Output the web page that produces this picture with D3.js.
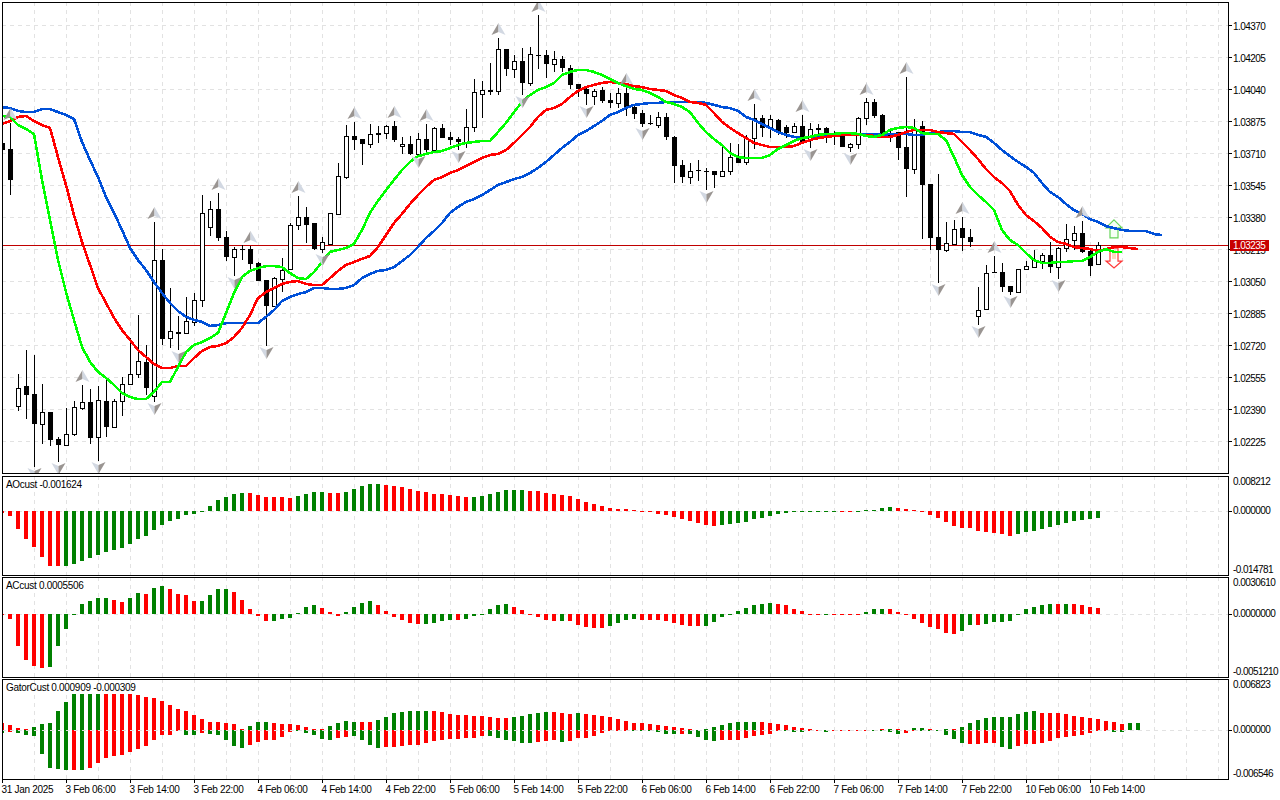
<!DOCTYPE html>
<html>
<head>
<meta charset="utf-8">
<script src="https://d3js.org/d3.v7.min.js"></script>
<style>
  html, body { margin: 0; padding: 0; background: #fff; }
  svg { display: block; }
  text { font-family: "Liberation Sans", sans-serif; font-size: 10px; letter-spacing: -0.55px; fill: #000; }
  text.label, .time text { letter-spacing: -0.3px; }
  .axis path.domain { display: none; }
  .axis line { stroke: #000; shape-rendering: crispEdges; }
  .grid { stroke: #e2e2e2; stroke-dasharray: 4 4; shape-rendering: crispEdges; }
  .frame { fill: none; stroke: #000; shape-rendering: crispEdges; }
</style>
</head>
<body>
<svg id="chart" width="1280" height="800"></svg>
<script>
// prices are in points, 1 point = 0.00001
const opens = [103762,103731,102406,102509,102467,102313,102375,102235,102204,102261,
  102395,102426,102246,102431,102297,102431,102519,102570,102633,102457,
  103158,102756,102787,102782,102839,102952,103328,103421,103277,103174,
  103215,103215,103143,103055,102921,103060,103112,103339,103380,103349,
  103215,103241,103396,103586,103798,103782,103756,103813,103813,103849,
  103746,103756,103705,103782,103725,103839,103793,103782,103767,103844,
  104014,104030,104030,104246,104143,104184,104071,104215,104215,104169,
  104195,104148,104066,104040,104004,104035,103983,103968,104019,103947,
  103916,103865,103854,103896,103793,103648,103586,103622,103617,103617,
  103591,103617,103689,103664,103787,103891,103839,103880,103844,103818,
  103849,103782,103839,103839,103813,103803,103741,103756,103891,103973,
  103906,103813,103818,103741,103627,103849,103550,103277,103210,103241,
  103323,103277,102870,102905,103096,103096,103024,102993,103112,103122,
  103153,103184,103122,103220,103261,103297,103205,103138];
const highs = [103777,103865,102570,102694,102668,102519,102375,102246,102395,102431,
  102514,102493,102509,102540,102441,102555,102756,102875,102720,103354,
  103215,103014,102870,102968,102988,103493,103463,103504,103308,103225,
  103236,103231,103148,103055,103071,103169,103349,103488,103432,103349,
  103277,103401,103658,103854,103870,103782,103860,103849,103854,103875,
  103793,103798,103813,103860,103844,103860,103818,103793,103937,104092,
  104081,104174,104303,104246,104215,104251,104257,104422,104241,104236,
  104210,104164,104066,104045,104040,104050,104019,104045,104045,103958,
  103932,103906,103921,103916,103798,103674,103658,103674,103633,103617,
  103741,103762,103756,103803,103963,103906,103906,103885,103854,103865,
  103906,103865,103860,103844,103823,103813,103762,103896,103994,103988,
  103911,103839,103818,104102,103885,103875,103550,103602,103354,103365,
  103380,103318,103019,103133,103179,103143,103024,103112,103153,103210,
  103194,103251,103225,103344,103333,103359,103220,103251];
const lows = [103700,103493,102380,102339,102091,102209,102199,102117,102199,102251,
  102385,102209,102122,102246,102292,102354,102514,102550,102462,102426,
  102720,102704,102694,102777,102818,102916,103282,103256,103153,103076,
  103158,103112,103050,102715,102916,102993,103112,103313,103246,103210,
  103194,103236,103396,103576,103725,103648,103736,103762,103782,103767,
  103705,103700,103700,103715,103720,103787,103751,103725,103736,103818,
  103891,104009,104009,104107,104097,104009,104055,104143,104097,104128,
  104128,104040,103999,103958,103958,103968,103942,103942,103901,103885,
  103844,103854,103839,103777,103555,103555,103550,103566,103519,103529,
  103586,103597,103658,103648,103731,103793,103787,103803,103787,103813,
  103767,103736,103787,103762,103751,103741,103715,103731,103854,103891,
  103787,103767,103674,103483,103602,103267,103210,103040,103200,103236,
  103205,103225,102823,102900,103091,102993,102978,102993,103107,103122,
  103112,103091,103060,103200,103210,103194,103076,103138];
const closes = [103725,103571,102498,102462,102313,102375,102230,102204,102261,102401,
  102426,102240,102436,102297,102431,102519,102570,102638,102498,103158,
  102751,102792,102777,102844,102952,103401,103421,103272,103174,103215,
  103210,103138,103050,102921,103065,103107,103339,103380,103339,103215,
  103251,103401,103591,103798,103777,103756,103808,103803,103849,103777,
  103756,103705,103782,103725,103839,103787,103777,103767,103844,104025,
  104035,104035,104246,104143,104184,104071,104220,104210,104169,104195,
  104148,104061,104040,104014,104030,103978,103968,104019,103942,103911,
  103860,103860,103896,103793,103643,103586,103617,103617,103612,103597,
  103617,103689,103658,103787,103891,103839,103885,103813,103813,103849,
  103767,103834,103829,103808,103808,103741,103756,103891,103973,103901,
  103803,103798,103736,103627,103839,103545,103272,103210,103246,103318,
  103272,103251,102900,103091,103091,103019,102993,103112,103127,103158,
  103184,103122,103220,103267,103297,103200,103127,103235];

// moving averages, each shifted forward on the chart
const jawLine = [103947,103942,103927,103921,103921,103937,103937,103921,103906,103885,
  103767,103674,103586,103483,103401,103313,103220,103158,103107,103045,
  102988,102937,102895,102865,102849,102839,102818,102823,102833,102833,
  102833,102833,102833,102865,102900,102947,102968,102983,102993,103014,
  103014,103009,103009,103014,103029,103065,103086,103102,103107,103122,
  103153,103184,103225,103272,103308,103349,103401,103432,103457,103473,
  103493,103519,103545,103560,103576,103586,103607,103633,103664,103700,
  103736,103767,103803,103823,103849,103875,103906,103921,103942,103958,
  103963,103968,103968,103973,103973,103973,103973,103973,103968,103958,
  103947,103942,103927,103896,103880,103860,103839,103818,103803,103793,
  103787,103793,103793,103803,103808,103813,103813,103808,103808,103808,
  103803,103808,103808,103808,103803,103803,103813,103818,103823,103823,
  103818,103818,103803,103793,103762,103725,103694,103664,103638,103607,
  103555,103509,103483,103447,103416,103396,103370,103354,103333,103323,
  103313,103308,103308,103308,103292,103287];
const teethLine = [103860,103875,103896,103901,103875,103854,103839,103689,103545,103390,
  103251,103133,103014,102937,102860,102797,102746,102694,102658,102622,
  102601,102601,102612,102612,102653,102689,102710,102715,102730,102761,
  102808,102875,102962,102993,103014,103035,103045,103050,103035,103029,
  103029,103065,103102,103133,103148,103164,103179,103225,103287,103349,
  103396,103447,103493,103535,103571,103586,103607,103622,103643,103664,
  103684,103700,103705,103725,103762,103803,103844,103896,103932,103942,
  103963,103999,104030,104050,104061,104071,104076,104071,104066,104055,
  104050,104040,104035,104030,104009,103994,103973,103968,103958,103916,
  103870,103839,103813,103787,103762,103751,103741,103741,103741,103746,
  103762,103777,103787,103793,103798,103803,103803,103803,103803,103798,
  103793,103793,103803,103818,103829,103829,103829,103818,103813,103808,
  103767,103725,103679,103627,103586,103555,103514,103442,103390,103359,
  103323,103277,103251,103241,103225,103220,103215,103205,103215,103225,
  103225,103220,103215];
const lipsLine = [103901,103896,103854,103834,103808,103571,103365,103158,102993,102849,
  102710,102633,102581,102550,102514,102473,102452,102441,102441,102478,
  102529,102529,102607,102684,102720,102735,102756,102782,102885,102988,
  103071,103102,103117,103127,103127,103122,103091,103065,103060,103096,
  103148,103200,103210,103220,103241,103313,103401,103463,103519,103571,
  103622,103664,103694,103705,103715,103720,103736,103751,103762,103767,
  103772,103772,103818,103865,103921,103973,104009,104035,104050,104071,
  104112,104128,104138,104138,104128,104112,104092,104071,104055,104040,
  104035,104019,103999,103973,103963,103947,103921,103865,103818,103782,
  103751,103710,103689,103684,103684,103684,103700,103731,103751,103772,
  103787,103793,103803,103808,103808,103813,103813,103808,103798,103793,
  103803,103829,103839,103844,103839,103813,103808,103808,103777,103689,
  103597,103535,103493,103457,103416,103313,103261,103236,103194,103158,
  103143,103143,103148,103148,103153,103153,103174,103200,103215,103200,
  103200];

// bar numbers carrying a fractal mark
const fractalUp = [1,10,19,27,31,37,44,49,53,62,67,78,94,100,108,113,120,124,135];
const fractalDown = [4,7,12,19,22,29,33,40,52,57,65,73,80,88,101,106,117,122,126,132];

const aoValues = [-.00046,-.00116,-.00418,-.0065,-.00836,-.01068,-.01277,-.01277,-.01277,-.01231,
  -.01161,-.01091,-.01022,-.00952,-.00906,-.00859,-.00766,-.0065,-.00581,-.00441,
  -.00325,-.00232,-.00186,-.00093,-.0007,-.00015,.00116,.00255,.00325,.00395,
  .00418,.00418,.00372,.00325,.00325,.00325,.00302,.00348,.00395,.00441,
  .00441,.00418,.00418,.00441,.00511,.00581,.00627,.00627,.00604,.00581,
  .00557,.00511,.00464,.00441,.00395,.00395,.00372,.00348,.00325,.00325,
  .00348,.00395,.00441,.00488,.00488,.00488,.00464,.00464,.00418,.00395,
  .00372,.00348,.00279,.00209,.00163,.00116,.0007,.00046,.00046,.00023,
  .00008,-.00008,-.0007,-.00093,-.00139,-.00186,-.00232,-.00279,-.00325,-.00348,
  -.00325,-.00302,-.00279,-.00255,-.00186,-.00163,-.00116,-.0007,-.00046,-.00015,
  -.00008,-.00004,-.00008,-.00008,-.00008,-.00008,-.00008,.00008,.00023,.00039,
  .0007,.00093,.0007,.00046,.00023,.00008,-.00093,-.00163,-.00255,-.00348,
  -.00395,-.00395,-.00464,-.00488,-.00511,-.00534,-.00581,-.00534,-.00488,-.00464,
  -.00418,-.00372,-.00325,-.00279,-.00232,-.00209,-.00186,-.00162];
const aoTrend = ["RRRRRRRRGG","GGGGGGGGGG","GGGGGGGGGG","GRRRRRRGGG","GRRGGGGGRR","RRRRRRRRRG","GGGGGGRRRR",
  "RRRRRRRRRR","RRRRRRRRRR","GGGGGGGGGG","GGGGGRRGGG","GGRRRRRRRR","RRRRRRRGGG","GGGGGGGG"].join("");

const acValues = [-.00005,-.00041,-.00262,-.00376,-.00425,-.00442,-.00434,-.00262,-.00123,.00005,
  .00082,.00106,.00131,.00131,.00115,.00098,.00131,.00172,.00164,.00213,
  .00229,.00205,.00164,.00155,.00106,.00106,.00155,.00205,.00205,.0018,
  .00115,.00041,-.00016,-.00057,-.00057,-.00041,-.00033,.00008,.00057,.00074,
  .00049,.00016,-.00014,.00016,.00057,.0009,.00106,.00074,.00025,-.00025,
  -.00049,-.00074,-.00082,-.00082,-.00074,-.00057,-.00049,-.00049,-.00041,-.00016,
  -.00005,.00041,.00074,.00082,.00057,.00033,-.00003,-.00025,-.00049,-.00057,
  -.00057,-.00057,-.0009,-.00106,-.00115,-.00115,-.00098,-.00074,-.00049,-.00041,
  -.00049,-.00049,-.00049,-.00057,-.00074,-.0009,-.00098,-.00098,-.00098,-.00065,
  -.00025,.00005,.00025,.00049,.00074,.00082,.0009,.00082,.00074,.00041,
  .00025,.00005,.00005,.00005,.00005,.00003,-.00003,.00003,.00016,.00041,
  .00041,.00041,.00016,-.00008,-.00041,-.00071,-.00106,-.00123,-.00155,-.00164,
  -.00139,-.0009,-.0009,-.00082,-.00065,-.00065,-.00057,.00003,.00041,.00057,
  .00074,.00082,.00082,.00082,.00082,.00074,.00057,.00055];
const acTrend = ["RRRRRRGGGG","GGGGRRGGRG","GRRRRGGGGR","RRRRGGGGGG","RRRGGGGRRR","RRRGGGGRGG","GGGGRRRRRR",
  "GRRRRRGGGG","RRRRRRRRGG","GGGGGGGRRR","RRRGRRRRGG","GRRRRRRRRR","GGRGGGGGGG","GGRGRRRR"].join("");

const gatorUp = [.00095,.00068,.00027,.00014,.00041,.00081,.00095,.00257,.00378,.00486,
  .00486,.00486,.00486,.00486,.00486,.00486,.00486,.00473,.00446,.00432,
  .00392,.00338,.00284,.00257,.00203,.00149,.00108,.00108,.00095,.00081,
  .00014,.00054,.00108,.00108,.00095,.00081,.00081,.00068,.00041,.00014,
  .00014,.00054,.00095,.00122,.00108,.00108,.00108,.00135,.00176,.0023,
  .00243,.00257,.00257,.00257,.00257,.00243,.00216,.00203,.00203,.00189,
  .00189,.00176,.00162,.00162,.00176,.00189,.00216,.0023,.00243,.00243,
  .0023,.00216,.0023,.00216,.00203,.00189,.00176,.00149,.00122,.00095,
  .00095,.00081,.00068,.00054,.00041,.00027,.00014,.00005,.00014,.00041,
  .00068,.00095,.00108,.00108,.00108,.00108,.00095,.00081,.00068,.00041,
  .00027,.00014,.00005,.00005,.00005,.00005,.00005,.00005,.00005,.00005,
  .00014,.00014,.00014,.00005,.00027,.00027,.00014,.00005,.00014,.00014,
  .00041,.00095,.00135,.00162,.00176,.00176,.00176,.00216,.00243,.00257,
  .0023,.0023,.0023,.00216,.00189,.00176,.00162,.00149,.00122,.00108,
  .00081,.00091,.00091];
const gatorUpTrend = ["RRRRGGGGGG","GGGRRRRRRR","RRRRRRRRRR","RGGGRRRRRR","RGGGGRRGGG","GGGGRRRRRR","RRRRGGGGGR",
  "RRGRRRRRRR","RRRRRRRGGG","GGGGGRRRRR","RRRRRRRRRG","RGRRGGRGGR","GGGGGGGGGG","RRRRRRRRRR","RGG"].join("");
const gatorDown = [-.00041,-.00027,-.00041,-.00068,-.00081,-.00324,-.00513,-.00527,-.0054,-.0054,
  -.0054,-.00513,-.00446,-.00378,-.00351,-.00338,-.00297,-.00257,-.00216,-.00135,
  -.00068,-.00068,-.00014,-.00068,-.00068,-.00041,-.00054,-.00068,-.00135,-.00216,
  -.00243,-.00203,-.00162,-.00135,-.00135,-.00095,-.00027,-.00014,-.00041,-.00068,
  -.00122,-.00135,-.00108,-.00095,-.00081,-.00135,-.00203,-.00243,-.0023,-.0023,
  -.00216,-.00203,-.00203,-.00176,-.00149,-.00135,-.00122,-.00122,-.00108,-.00108,
  -.00081,-.00081,-.00108,-.00135,-.00149,-.00176,-.00176,-.00162,-.00149,-.00135,
  -.00162,-.00149,-.00108,-.00108,-.00081,-.00041,-.00014,-.00014,-.00014,-.00014,
  -.00014,-.00014,-.00027,-.00054,-.00054,-.00054,-.00054,-.00095,-.00135,-.00149,
  -.00135,-.00135,-.00135,-.00108,-.00081,-.00068,-.00054,-.00005,-.00014,-.00027,
  -.00027,-.00005,0,-.00027,0,0,0,0,0,0,
  -.00014,-.00027,-.00054,-.00041,-.00005,-.00005,-.00005,-.00005,-.00068,-.00122,
  -.00176,-.00189,-.00189,-.00176,-.00176,-.0023,-.00257,-.00216,-.00189,-.00189,
  -.00176,-.00149,-.00108,-.00095,-.00081,-.00068,-.00041,-.00014,-.00005,-.00027,
  -.00027,0,0];
const gatorDownTrend = ["GRGGGGGGGR","GRRRRRRRRR","RRRGGRGGGG","GRRRRRRGGG","GGRRGGGGRR","RRRRRRRRRR","RGGGGGGRRR",
  "GRRRRRRRRG","GGGGGRGGGG","RRRRRRRRGG","GRRGRRRRRR","GGGRRGGGGG","GRRRRGGRRR","RRRRRRRRRG","GGG"].join("");

const priceTicks = [104370,104205,104040,103875,103710,103545,103380,103215,103050,102885,102720,102555,102390,102225];
const timeLabels = ["31 Jan 2025","3 Feb 06:00","3 Feb 14:00","3 Feb 22:00","4 Feb 06:00","4 Feb 14:00","4 Feb 22:00",
  "5 Feb 06:00","5 Feb 14:00","5 Feb 22:00","6 Feb 06:00","6 Feb 14:00","6 Feb 22:00","7 Feb 06:00","7 Feb 14:00",
  "7 Feb 22:00","10 Feb 06:00","10 Feb 14:00"];
const lastPrice = 103235;
const signalBar = 139, buySignal = 103272, sellSignal = 103220;

const svg = d3.select("#chart");
const left = 2, right = 1228;
const x = d3.scaleLinear().domain([0, 1]).range([2, 10]);
const priceY = d3.scaleLinear().domain([104370, 102225]).range([25, 441]);
const colors = { G: "#008000", R: "#ff0000" };

// clip for everything inside the panes
const defs = svg.append("defs");
function addClip(id, top, bottom) {
    defs.append("clipPath").attr("id", id).append("rect")
        .attr("x", left + 1).attr("y", top + 1)
        .attr("width", right - left - 1).attr("height", bottom - top - 1);
}

// 竖直网格
function drawVGrid(top, bottom) {
    svg.append("g").selectAll("line")
        .data(d3.range(4, 153, 4))
        .enter()
        .append("line")
        .attr("class", "grid")
        .attr("x1", d => x(d)).attr("x2", d => x(d))
        .attr("y1", top).attr("y2", bottom);
}

function drawHGrid(values, y) {
    svg.append("g").selectAll("line")
        .data(values)
        .enter()
        .append("line")
        .attr("class", "grid")
        .attr("x1", left).attr("x2", right)
        .attr("y1", d => y(d)).attr("y2", d => y(d));
}

// main pane
function drawPrice() {
    const top = 2, bottom = 473;
    addClip("clip-main", top, bottom);
    drawVGrid(top, bottom);
    drawHGrid(priceTicks, priceY);

    svg.append("g")
        .attr("class", "axis")
        .attr("transform", `translate(${right},0)`)
        .call(d3.axisRight(priceY).tickValues(priceTicks).tickSize(4).tickPadding(1)
            .tickFormat(d => (d / 1e5).toFixed(5)))
        .selectAll("text").attr("dy", "0.45em");

    const g = svg.append("g").attr("clip-path", "url(#clip-main)");

    g.append("line")
        .attr("x1", left).attr("x2", right)
        .attr("y1", Math.round(priceY(lastPrice))).attr("y2", Math.round(priceY(lastPrice)))
        .attr("stroke", "#c00000").attr("shape-rendering", "crispEdges");

    // candles
    const bars = d3.range(opens.length);
    g.append("g").selectAll("line")
        .data(bars)
        .enter()
        .append("line")
        .attr("x1", d => x(d) + 0.5).attr("x2", d => x(d) + 0.5)
        .attr("y1", d => priceY(highs[d])).attr("y2", d => priceY(lows[d]))
        .attr("stroke", "#000").attr("shape-rendering", "crispEdges");

    g.append("g").selectAll("rect")
        .data(bars)
        .enter()
        .append("rect")
        .attr("x", d => x(d) - 2)
        .attr("y", d => Math.round(priceY(Math.max(opens[d], closes[d]))))
        .attr("width", 5)
        .attr("height", d => Math.max(1, Math.round(Math.abs(priceY(opens[d]) - priceY(closes[d])))))
        .attr("fill", d => closes[d] > opens[d] ? "#fff" : "#000")
        .attr("stroke", "#000")
        .attr("stroke-width", 0.01)
        .attr("shape-rendering", "crispEdges")
        .each(function (d) {
            // white bodies keep a one pixel outline
            if (closes[d] > opens[d]) {
                d3.select(this)
                    .attr("x", x(d) - 1.5).attr("width", 4)
                    .attr("stroke-width", 1);
            }
        });

    // signal arrows
    const ax = x(signalBar);
    g.append("path")
        .attr("d", `M0,-18 L8,-10 L4,-10 L4,0 L-4,0 L-4,-10 L-8,-10 Z`)
        .attr("transform", `translate(${ax},${priceY(buySignal)})`)
        .attr("fill", "#f6fff6").attr("stroke", "#66d45a").attr("stroke-width", 1.2);
    g.append("path")
        .attr("d", `M-2,2 L2,2 L2,11 L-2,11 Z`)
        .attr("transform", `translate(${ax},${priceY(sellSignal)})`)
        .attr("fill", "#ffd8c0");
    g.append("path")
        .attr("d", `M-4,0 L4,0 L4,13 L8,13 L0,20 L-8,13 L-4,13 Z`)
        .attr("transform", `translate(${ax},${priceY(sellSignal)})`)
        .attr("fill", "none").attr("stroke", "#ff3a3a").attr("stroke-width", 1.2);

    // moving averages
    const line = d3.line().x((d, i) => x(i)).y(d => priceY(d));
    [[jawLine, "#0050d8"], [teethLine, "#ff0000"], [lipsLine, "#00ff00"]].forEach(([s, c]) => {
        g.append("path")
            .attr("d", line(s))
            .attr("fill", "none")
            .attr("stroke", c)
            .attr("stroke-width", 2.6)
            .attr("shape-rendering", "crispEdges");
    });

    // fractal marks, left half dark and right half pale
    const marks = g.append("g");
    fractalUp.forEach(i => {
        const m = marks.append("g").attr("transform", `translate(${x(i) + 0.5},${priceY(highs[i]) - 9})`);
        m.append("path").attr("d", "M0,-6 L0,3 L-7,6 Z").attr("fill", "#9a9592");
        m.append("path").attr("d", "M0,-6 L0,3 L7,6 Z").attr("fill", "#d2d8e2");
    });
    fractalDown.forEach(i => {
        const m = marks.append("g").attr("transform", `translate(${x(i) + 0.5},${priceY(lows[i]) + 7})`);
        m.append("path").attr("d", "M0,6 L0,-3 L-7,-6 Z").attr("fill", "#d2d8e2");
        m.append("path").attr("d", "M0,6 L0,-3 L7,-6 Z").attr("fill", "#9a9592");
    });

    svg.append("rect").attr("class", "frame")
        .attr("x", left + 0.5).attr("y", top + 0.5)
        .attr("width", right - left).attr("height", bottom - top);

    // last price label sits over the tick text
    const ly = Math.round(priceY(lastPrice));
    svg.append("rect")
        .attr("x", right + 2).attr("y", ly - 5)
        .attr("width", 39).attr("height", 11)
        .attr("fill", "#c80000");
    svg.append("text")
        .attr("x", right + 5).attr("y", ly + 4)
        .style("fill", "#fff")
        .text((lastPrice / 1e5).toFixed(5));
}

// indicator pane with one or two histograms
function drawPane(id, top, bottom, domain, series, digits, title) {
    addClip(id, top, bottom);
    const y = d3.scaleLinear().domain(domain).range([bottom, top]);
    drawVGrid(top, bottom);
    drawHGrid([0], y);

    const g = svg.append("g").attr("clip-path", `url(#${id})`);
    series.forEach(([values, trend]) => {
        g.append("g").selectAll("rect")
            .data(values)
            .enter()
            .append("rect")
            .attr("x", (d, i) => x(i) - 2)
            .attr("y", d => y(Math.max(0, d)))
            .attr("width", 4)
            .attr("height", d => d === 0 ? 0 : Math.max(1, Math.abs(y(d) - y(0))))
            .attr("fill", (d, i) => colors[trend[i]])
            .attr("shape-rendering", "crispEdges");
    });
    if (series.length > 1) {
        g.append("line")
            .attr("class", "grid")
            .attr("x1", left).attr("x2", right)
            .attr("y1", y(0)).attr("y2", y(0));
    }

    svg.append("rect").attr("class", "frame")
        .attr("x", left + 0.5).attr("y", top + 0.5)
        .attr("width", right - left).attr("height", bottom - top);

    svg.append("line")
        .attr("x1", right).attr("x2", right + 4)
        .attr("y1", y(0)).attr("y2", y(0))
        .attr("stroke", "#000").attr("shape-rendering", "crispEdges");

    svg.append("text").attr("class", "label").attr("x", 6).attr("y", top + 12).text(title);

    const labels = [[domain[1], top + 9], [0, y(0) + 3], [domain[0], bottom - 2]];
    labels.forEach(([v, ty]) => {
        svg.append("text")
            .attr("x", right + 5).attr("y", ty)
            .text(v.toFixed(digits));
    });
}

drawPrice();
drawPane("clip-ao", 476, 575, [-0.014781, 0.008212], [[aoValues, aoTrend]], 6, "AOcust -0.001624");
drawPane("clip-ac", 577, 677, [-0.005121, 0.003061], [[acValues, acTrend]], 7, "ACcust 0.0005506");
drawPane("clip-gator", 679, 779, [-0.006546, 0.006823], [[gatorUp, gatorUpTrend], [gatorDown, gatorDownTrend]], 6, "GatorCust 0.000909 -0.000309");

// time axis
const timeTicks = timeLabels.map((d, i) => i * 8);
const timeAxis = svg.append("g")
    .attr("class", "axis time")
    .attr("transform", "translate(0,779)")
    .call(d3.axisBottom(x).tickValues(timeTicks).tickSize(4).tickPadding(1)
        .tickFormat((d, i) => timeLabels[i]));
timeAxis.selectAll("text")
    .attr("text-anchor", "start")
    .attr("x", -1)
    .attr("y", 5)
    .attr("dy", "0.9em");
</script>
</body>
</html>
